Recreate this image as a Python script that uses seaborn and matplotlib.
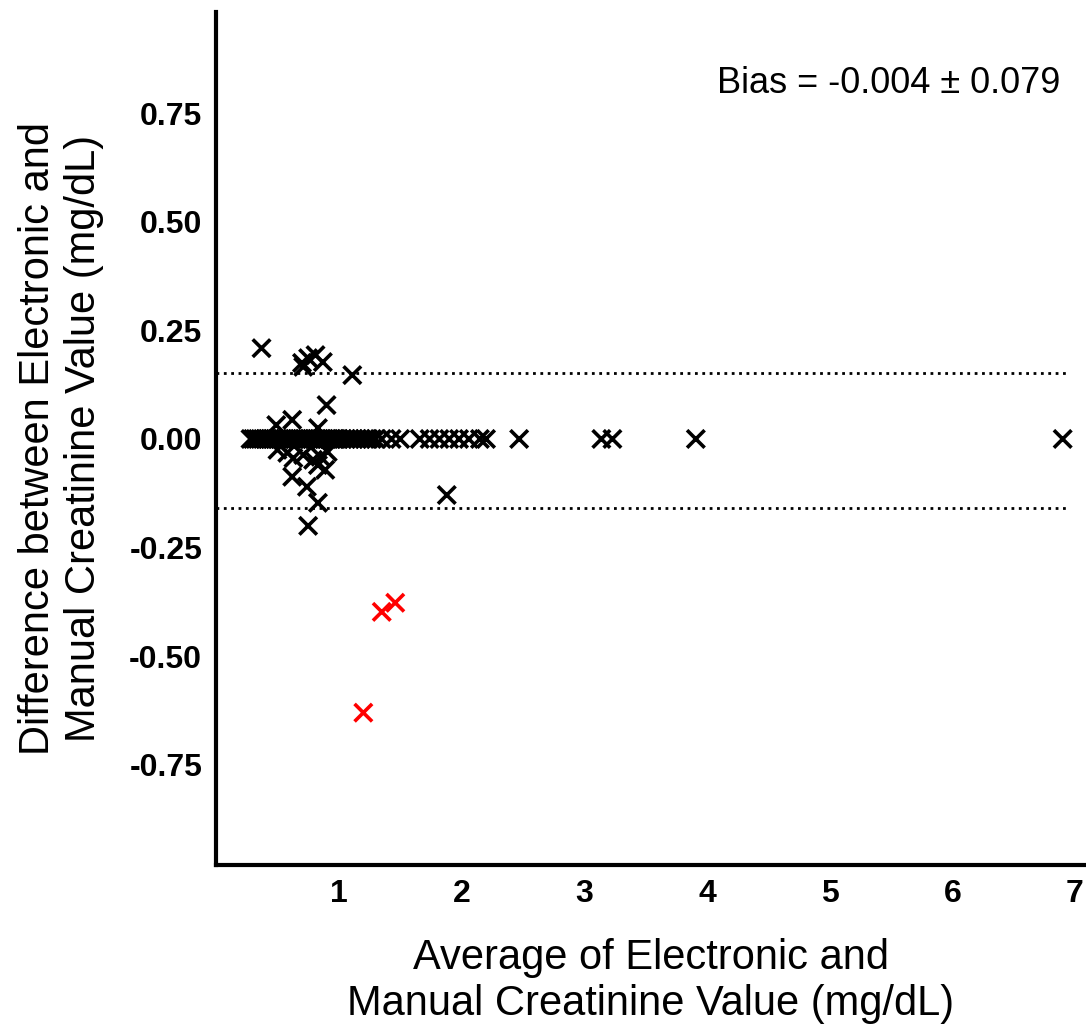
import seaborn as sns
import pandas as pd
import matplotlib.pyplot as plt

# off-zero differences (black)
avg_off = [0.37, 0.70, 0.75, 0.81, 0.87, 0.71, 1.11, 0.90, 0.49, 0.62, 0.83,
           0.50, 0.58, 0.63, 0.71, 0.79, 0.85, 0.91, 0.83, 0.89, 0.62, 0.74,
           0.83, 0.75, 1.88]
diff_off = [0.209, 0.175, 0.186, 0.193, 0.177, 0.166, 0.147, 0.078, 0.032, 0.044, 0.025,
            -0.025, -0.032, -0.044, -0.037, -0.048, -0.041, -0.030, -0.060, -0.071, -0.087, -0.110,
            -0.147, -0.200, -0.129]

# zero-difference points (black)
avg_zero = [0.28, 0.30, 0.32, 0.34, 0.36, 0.38, 0.40, 0.42, 0.44, 0.46, 0.48,
            0.50, 0.52, 0.54, 0.56, 0.58, 0.60, 0.62, 0.64, 0.66, 0.68, 0.70,
            0.72, 0.74, 0.76, 0.78, 0.80, 0.82, 0.84, 0.86, 0.88, 0.90, 0.92,
            0.94, 0.96, 0.98, 1.00, 1.03, 1.06, 1.09, 1.12, 1.15, 1.18, 1.21,
            1.24, 1.27, 1.30, 1.35, 1.43, 1.50, 1.66, 1.74, 1.82, 1.90, 1.98,
            2.06, 2.15, 2.20, 2.47, 3.14, 3.23, 3.91, 6.90]

# outliers (red)
avg_out = [1.35, 1.46, 1.20]
diff_out = [-0.398, -0.377, -0.630]

bias = -0.004
sd = 0.079
upper = 0.151
lower = -0.159

df = pd.concat([
    pd.DataFrame({'avg': avg_off, 'diff': diff_off, 'grp': 'normal'}),
    pd.DataFrame({'avg': avg_zero, 'diff': [0.0] * len(avg_zero), 'grp': 'normal'}),
    pd.DataFrame({'avg': avg_out, 'diff': diff_out, 'grp': 'outlier'}),
])

sns.set_style("white")
plt.rcParams['font.family'] = ['Liberation Sans', 'DejaVu Sans']
plt.rcParams['text.color'] = 'black'
plt.rcParams['axes.labelcolor'] = 'black'
plt.rcParams['xtick.color'] = 'black'
plt.rcParams['ytick.color'] = 'black'

fig = plt.figure(figsize=(10.86, 10.27), dpi=100)
ax = fig.add_axes([0.199, 0.158, 0.801, 0.830])

ax.hlines([upper, lower], 0, 6.93, colors='black', linestyles=':', linewidth=2)
sns.scatterplot(x='avg', y='diff', hue='grp', data=df, ax=ax, marker='x',
                palette={'normal': 'black', 'outlier': '#ff0000'},
                s=160, linewidth=2.6, legend=False)

ax.set_xlim(0, 7.09)
ax.set_ylim(-0.98, 0.982)
ax.set_xticks([1, 2, 3, 4, 5, 6, 7])
ax.set_yticks([-0.75, -0.5, -0.25, 0, 0.25, 0.5, 0.75])
ax.set_yticklabels(['-0.75', '-0.50', '-0.25', '0.00', '0.25', '0.50', '0.75'])
ax.tick_params(length=0, pad=10, labelsize=23)
for lab in ax.get_xticklabels() + ax.get_yticklabels():
    lab.set_fontweight('bold')

sns.despine(ax=ax)
ax.spines['left'].set_linewidth(3)
ax.spines['bottom'].set_linewidth(3)
ax.spines['left'].set_color('black')
ax.spines['bottom'].set_color('black')

ax.set_xlabel('Average of Electronic and\nManual Creatinine Value (mg/dL)', fontsize=30, labelpad=21)
ax.set_ylabel('Difference between Electronic and\nManual Creatinine Value (mg/dL)', fontsize=30, labelpad=18)
ax.text(0.97, 0.917, 'Bias = %.3f \u00b1 %.3f' % (bias, sd), transform=ax.transAxes,
        ha='right', va='center', fontsize=26)

plt.savefig('out.png', dpi=100)
